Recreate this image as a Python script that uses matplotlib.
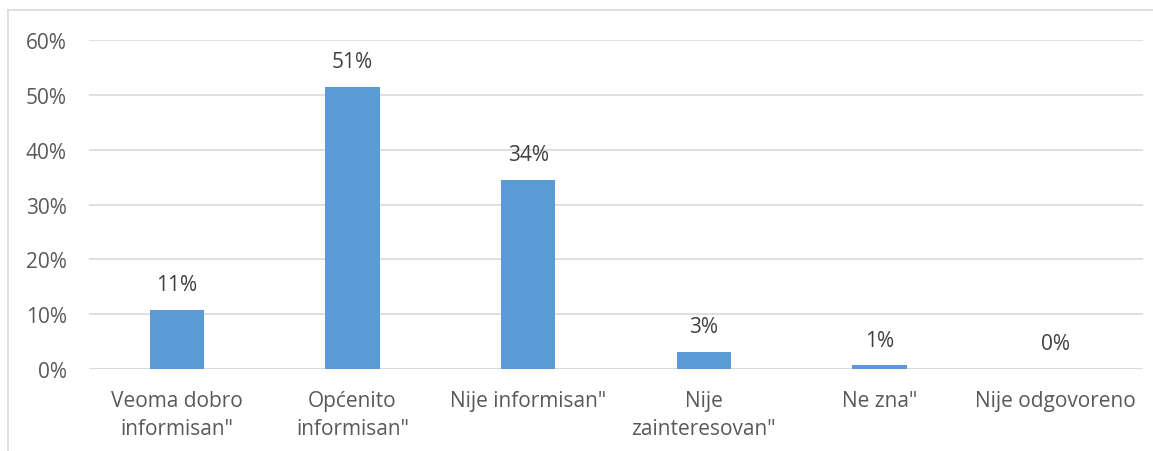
import matplotlib
matplotlib.use("Agg")
import matplotlib.pyplot as plt
from matplotlib.lines import Line2D

categories = ['Veoma dobro\ninformisan"', 'Općenito\ninformisan"', 'Nije informisan"',
              'Nije\nzainteresovan"', 'Ne zna"', 'Nije odgovoreno']
values = [0.108, 0.515, 0.345, 0.031, 0.007, 0.0]
value_labels = ['11%', '51%', '34%', '3%', '1%', '0%']
yticks = [0, 0.1, 0.2, 0.3, 0.4, 0.5, 0.6]
ytick_labels = ['0%', '10%', '20%', '30%', '40%', '50%', '60%']

plt.rcParams['font.family'] = ['Open Sans', 'DejaVu Sans']
text_color = '#595959'
fs = 15

fig = plt.figure(figsize=(11.53, 4.52), dpi=100)
ax = fig.add_axes([89/1153, 1-370/452, (1143-89)/1153, (370-41)/452])

x = list(range(len(categories)))
ax.bar(x, values, width=0.31, color='#5b9bd5', zorder=3)
for xi, v, lab in zip(x, values, value_labels):
    ax.annotate(lab, (xi, v), xytext=(0, 10.5), textcoords='offset points',
                ha='center', va='bottom', fontsize=fs, color='#404040')

ax.set_xlim(-0.5, len(categories) - 0.5)
ax.set_ylim(0, 0.6)
ax.set_yticks(yticks)
ax.set_yticklabels(ytick_labels, fontsize=fs, color=text_color)
ax.set_xticks(x)
ax.set_xticklabels(categories, fontsize=fs, color=text_color, linespacing=1.45)
ax.tick_params(axis='both', length=0)
ax.tick_params(axis='y', pad=16)
ax.tick_params(axis='x', pad=15)
ax.grid(axis='y', color='#d9d9d9', linewidth=1.2, zorder=0)
for s in ax.spines.values():
    s.set_visible(False)
ax.axhline(0, color='#d9d9d9', linewidth=1.2, zorder=2)

# outer chart frame (partially cropped)
fx = 8/1153
fy = 1 - 11/452
fig.add_artist(Line2D([fx, fx], [0, fy], transform=fig.transFigure, color='#d9d9d9', linewidth=1.2))
fig.add_artist(Line2D([fx, 1], [fy, fy], transform=fig.transFigure, color='#d9d9d9', linewidth=1.2))

fig.savefig('out.png', dpi=100)
